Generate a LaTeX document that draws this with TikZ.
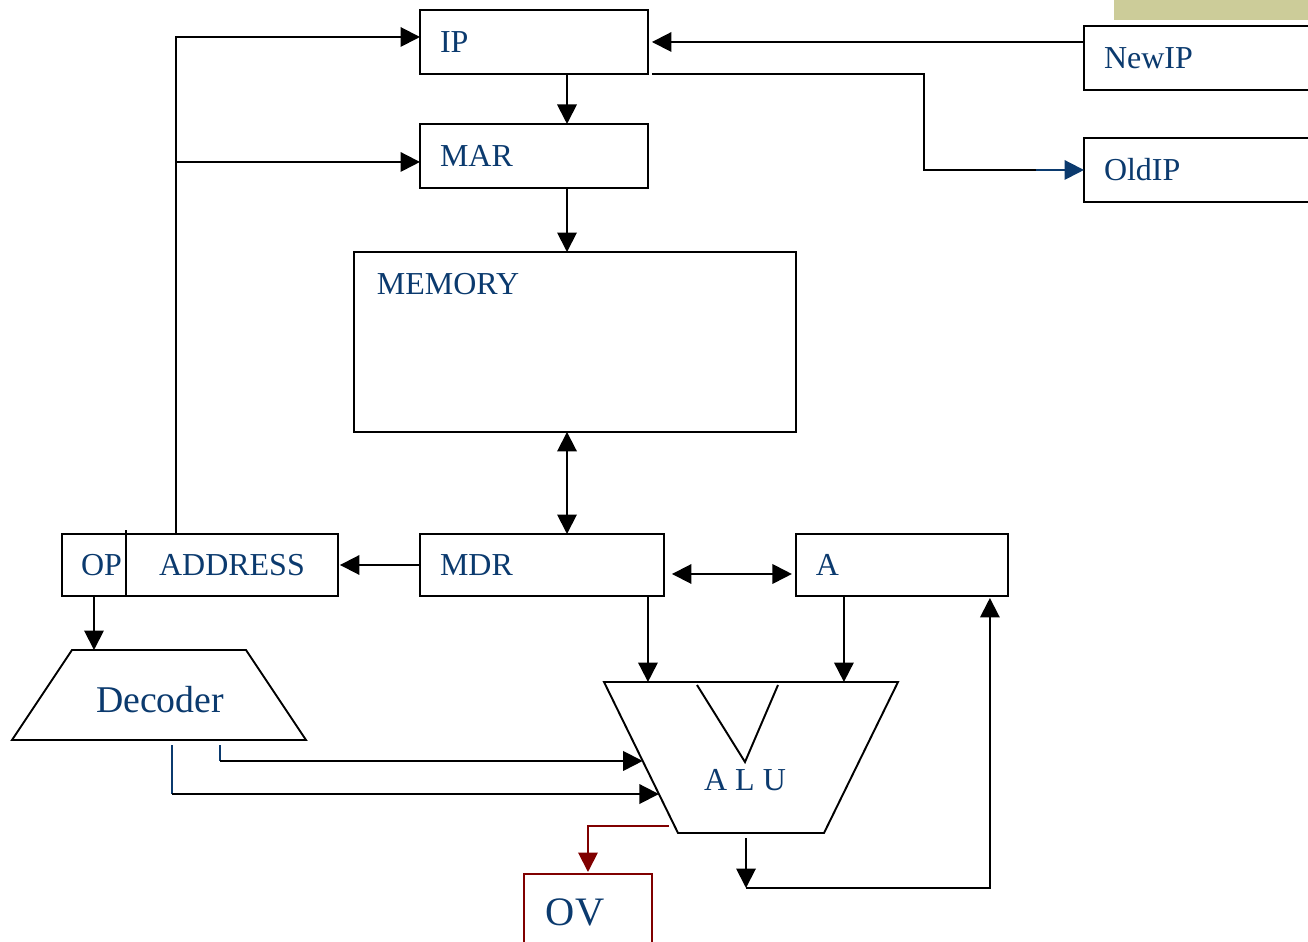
\documentclass[tikz,border=0pt]{standalone}
\usepackage{fontspec}
\setmainfont{Liberation Serif}
\usepackage{tikz}
\usetikzlibrary{arrows.meta,positioning,calc}
\definecolor{navy1}{HTML}{0B3A6E}
\definecolor{red1}{HTML}{800000}
\definecolor{olive1}{HTML}{CCCC99}

\begin{document}
\begin{tikzpicture}[
  x=0.02cm,y=-0.02cm,line width=1.1pt,
  txt/.style={font=\fontsize{18.2}{21}\selectfont,text=navy1},
  bigtxt/.style={font=\fontsize{23}{27}\selectfont,text=navy1},
  box/.style={rectangle,draw,anchor=north west,inner ysep=0pt,outer sep=0pt,txt},
  reg/.style={box,text width=#1,align=left,inner xsep=0.4cm,minimum height=1.28cm},
  arrow/.style={-{Triangle[length=0.39cm,width=0.39cm]}},
  dblarrow/.style={{Triangle[length=0.39cm,width=0.39cm]}-{Triangle[length=0.39cm,width=0.39cm]}},
]
  \path[use as bounding box,clip] (0,0) rectangle (1308,942);
  \fill[olive1] (1114,0) rectangle (1308,20);

  % registers
  \node[reg=3.76cm] (ip) at (420,10) {IP};
  \node[reg=3.76cm,below=1cm of ip] (mar) {MAR};
  \node[reg=3.92cm] (newip) at (1084,26) {NewIP};
  \node[reg=3.92cm,below=0.96cm of newip] (oldip) {OldIP};

  \node[box,minimum width=8.84cm,minimum height=3.6cm] (mem) at (354,252) {};
  \node[txt,anchor=north west,inner sep=0pt] (memtxt) at ($(mem.north west)+(22,20)$) {MEMORY};

  \node[box,minimum width=1.28cm,minimum height=1.24cm,text width=1.12cm,
        align=right,inner xsep=0.08cm] (op) at (62,534) {OP};
  \node[box,right=0pt of op,minimum width=4.24cm,minimum height=1.24cm,
        text width=3.6cm,align=center] (addr) {ADDRESS};
  \draw (op.north east) -- ++(0,-4);
  \node[reg=4.08cm,minimum height=1.24cm] (mdr) at (420,534) {MDR};
  \node[reg=3.44cm,minimum height=1.24cm,right=2.64cm of mdr] (a) {A};

  % decoder
  \coordinate (dtl) at (72,650);  \coordinate (dtr) at (246,650);
  \coordinate (dbl) at (12,740);  \coordinate (dbr) at (306,740);
  \draw (dbl) -- (dtl) -- (dtr) -- (dbr) -- cycle;
  \node[font=\fontsize{21.5}{26}\selectfont,text=navy1] (dec) at (160,700) {Decoder};

  % alu
  \coordinate (atl) at (604,682); \coordinate (atr) at (898,682);
  \coordinate (abl) at (678,833); \coordinate (abr) at (824,833);
  \draw (atl) -- (atr) -- (abr) -- (abl) -- cycle;
  \draw (697,685) -- (745,762) -- (778,685);
  \node[txt] (alu) at (745,780) {A L U};

  % overflow
  \node[box,draw=red1,minimum width=2.56cm,minimum height=2cm] (ov) at (524,874) {};
  \node[bigtxt,anchor=west,inner sep=0pt] (ovtxt) at (545,912) {OV};

  % address bus
  \coordinate (bus) at ($(addr.north west)+(50,0)$);
  \coordinate (spine) at (567,0);
  \draw[arrow] (bus) |- ($(ip.west)+(0,-5)$);
  \draw[arrow] ($(bus|-mar.west)+(0,6)$) -- ($(mar.west)+(0,6)$);

  \draw[arrow] (ip.south -| spine) -- (mar.north -| spine);
  \draw[arrow] (mar.south -| spine) -- (mem.north -| spine);
  \draw[dblarrow] (mem.south -| spine) -- (mdr.north -| spine);

  \draw[arrow] (ip.east -| newip.west) -- ($(ip.east)+(4,0)$);
  \draw ($(ip.south east)+(4,0)$) -| ($(oldip.west)+(-160,0)$) -- ($(oldip.west)+(-48,0)$);
  \draw[arrow,navy1] ($(oldip.west)+(-48,0)$) -- (oldip.west);

  \draw[arrow] (mdr.west) -- ($(addr.east)+(2,0)$);
  \draw[dblarrow] ($(mdr.east)+(8,9)$) -- ($(a.west)+(-4,9)$);

  \draw[arrow] (op.south) -- (op.south |- dtl);
  \coordinate (mdrout) at ($(mdr.south east)+(-16,0)$);
  \coordinate (aregout) at ($(a.south west)+(48,0)$);
  \draw[arrow] (mdrout) -- (mdrout |- atl);
  \draw[arrow] (aregout) -- (aregout |- atl);

  % decoder outputs
  \coordinate (dout1) at (220,745); \coordinate (dout2) at (172,745);
  \coordinate (ain1) at ($(atl)!0.523!(abl)$);
  \coordinate (ain2) at ($(atl)!0.742!(abl)$);
  \draw[navy1] (dout1) -- (dout1 |- ain1);
  \draw[arrow] (dout1 |- ain1) -- (ain1);
  \draw[navy1] (dout2) -- (dout2 |- ain2);
  \draw[arrow] (dout2 |- ain2) -- (ain2);

  \coordinate (ovout) at ($(atl)!0.954!(abl)+(-6,0)$);
  \draw[arrow,red1] (ovout) -| ($(ov.north)+(0,-2)$);

  \coordinate (aout) at (746,838);
  \draw[arrow] (aout) -- ++(0,50) coordinate (aend);
  \draw[arrow] (aend) -| ($(a.south east)+(-18,2)$);
\end{tikzpicture}
\end{document}
